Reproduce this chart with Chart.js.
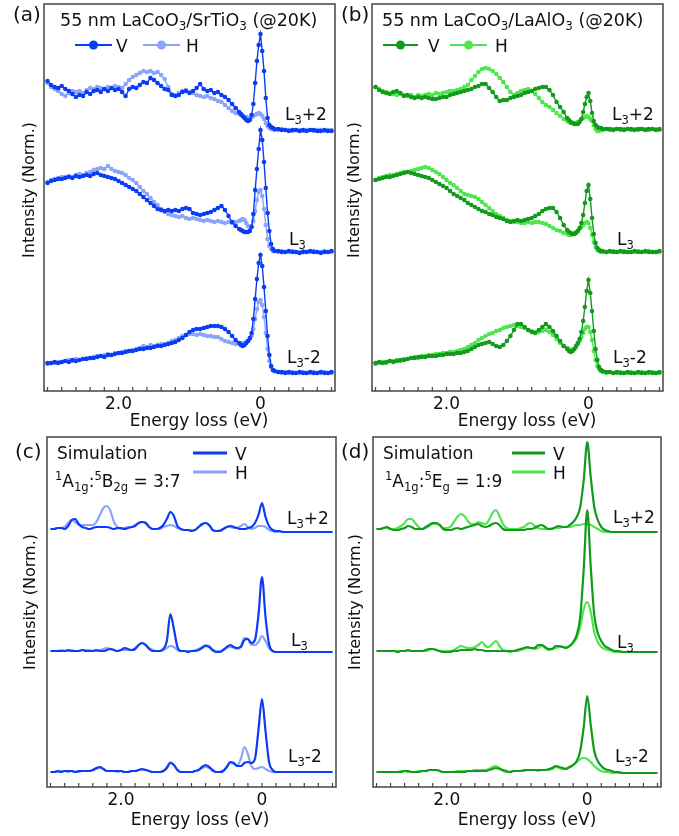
<!DOCTYPE html>
<html>
<head>
<meta charset="utf-8">
<script src="https://cdn.jsdelivr.net/npm/chart.js@4.4.1/dist/chart.umd.min.js"></script>
<style>
  body { margin: 0; background: #fff; width: 679px; height: 836px; position: relative; overflow: hidden; }
  canvas { position: absolute; }
</style>
</head>
<body>
<canvas id="pa"></canvas>
<canvas id="pb"></canvas>
<canvas id="pc"></canvas>
<canvas id="pd"></canvas>
<script>
const FONT = '"DejaVu Sans", sans-serif';

// energy loss (eV) of the measured points
const energyExp = [
  3.00, 2.95, 2.90, 2.85, 2.80, 2.75, 2.70, 2.65, 2.60, 2.55, 2.50, 2.45, 2.40, 2.35, 2.30, 2.25, 2.20, 2.15,
  2.10, 2.05, 2.00, 1.95, 1.90, 1.85, 1.80, 1.75, 1.70, 1.65, 1.60, 1.55, 1.50, 1.45, 1.40, 1.35, 1.30, 1.25,
  1.20, 1.15, 1.10, 1.05, 1.00, 0.95, 0.90, 0.85, 0.80, 0.75, 0.70, 0.65, 0.60, 0.55, 0.50, 0.45, 0.40, 0.35,
  0.300, 0.275, 0.250, 0.225, 0.200, 0.175, 0.150, 0.125, 0.100, 0.075, 0.050, 0.025, 0.000,
  -0.025, -0.050, -0.075, -0.100, -0.125, -0.150, -0.175, -0.200,
  -0.25, -0.30, -0.35, -0.40, -0.45, -0.50, -0.55, -0.60, -0.65, -0.70, -0.75, -0.80, -0.85, -0.90, -0.95, -1.00
];

// energy loss (eV) of the simulated curves
const energySim = [
  3.00, 2.95, 2.90, 2.85, 2.80, 2.75, 2.70, 2.65, 2.60, 2.55, 2.50, 2.45, 2.40, 2.35, 2.30, 2.25, 2.20, 2.15,
  2.10, 2.05, 2.00, 1.95, 1.90, 1.85, 1.80, 1.75, 1.70, 1.65, 1.60, 1.55, 1.50, 1.45, 1.40, 1.35, 1.30, 1.25,
  1.20, 1.15, 1.10, 1.05, 1.00, 0.95, 0.90, 0.85, 0.80, 0.75, 0.70, 0.65, 0.60, 0.55, 0.50, 0.45, 0.40, 0.35,
  0.30, 0.25, 0.20, 0.15, 0.10, 0.05, 0.00, -0.05, -0.10, -0.15, -0.20, -0.25, -0.30, -0.35, -0.40, -0.45,
  -0.50, -0.55, -0.60, -0.65, -0.70, -0.75, -0.80, -0.85, -0.90, -0.95, -1.00
];

// (a) LaCoO3/SrTiO3, stacked intensity (offset included)
const aPlusV = [
  310, 306, 304, 303, 305, 302, 300, 297, 294, 296, 295, 299, 297, 300, 301, 299, 302, 300, 303, 301, 302, 299,
  295, 302, 304, 303, 306, 309, 308, 313, 311, 308, 305, 302, 301, 296, 295, 296, 299, 300, 298, 300, 303, 307,
  302, 300, 301, 298, 299, 296, 294, 291, 287, 283,
  279, 277, 275, 273, 271, 270, 271, 276, 287, 308, 330, 346, 357, 340, 320, 293, 273, 266, 264, 263, 262,
  262, 261, 261, 260, 261, 261, 260, 261, 260, 261, 261, 260, 260, 261, 260, 260
];
const aPlusH = [
  308, 304, 302, 300, 297, 295, 298, 300, 299, 300, 298, 301, 303, 302, 304, 303, 302, 304, 303, 305, 304, 303,
  307, 311, 314, 316, 318, 320, 319, 320, 318, 319, 316, 312, 304, 297, 296, 298, 300, 301, 299, 298, 296, 295,
  294, 295, 293, 292, 290, 289, 286, 283, 280, 278,
  277, 276, 275, 274, 274, 273, 273, 274, 275, 276, 277, 278, 277, 275, 272, 268, 265, 263, 262, 262, 261,
  261, 262, 261, 261, 260, 261, 261, 260, 261, 261, 260, 261, 261, 260, 261, 261
];
const aMidV = [
  208, 210, 211, 212, 212, 213, 214, 213, 215, 214, 215, 216, 215, 217, 218, 216, 215, 214, 213, 212, 210, 208,
  206, 204, 202, 200, 197, 194, 191, 188, 185, 182, 181, 180, 181, 180, 181, 180, 182, 183, 182, 178, 177, 176,
  177, 178, 179, 181, 183, 185, 181, 175, 169, 165,
  162, 161, 160, 159, 159, 159, 160, 164, 177, 201, 222, 242, 261, 251, 229, 203, 178, 160, 147, 142, 140,
  140, 139, 139, 140, 139, 139, 138, 139, 139, 140, 139, 139, 138, 139, 139, 140
];
const aMidH = [
  209, 211, 212, 213, 214, 214, 215, 214, 216, 217, 216, 218, 219, 221, 222, 223, 222, 225, 222, 220, 219, 218,
  216, 213, 211, 208, 204, 200, 197, 193, 189, 186, 182, 179, 177, 176, 175, 174, 175, 173, 172, 173, 172, 171,
  170, 171, 170, 169, 170, 169, 168, 169, 168, 169,
  170, 171, 172, 171, 168, 165, 163, 165, 170, 180, 191, 199, 201, 195, 182, 166, 152, 145, 142, 140, 140,
  139, 140, 139, 139, 140, 139, 139, 140, 139, 139, 140, 139, 139, 140, 139, 139
];
const aLowV = [
  28, 28, 29, 28, 29, 30, 29, 31, 30, 31, 32, 32, 33, 33, 34, 35, 34, 36, 36, 37, 38, 38, 39, 40, 40, 41, 42,
  42, 43, 43, 44, 45, 45, 46, 47, 48, 49, 51, 53, 56, 59, 61, 62, 62, 63, 64, 65, 65, 65, 64, 62, 59, 55, 51,
  48, 46, 45, 46, 48, 50, 53, 58, 72, 92, 112, 128, 136, 125, 104, 80, 55, 36, 25, 21, 20,
  19, 19, 18, 19, 18, 18, 19, 18, 18, 19, 18, 18, 19, 18, 18, 19
];
const aLowH = [
  27, 28, 28, 29, 29, 30, 31, 30, 32, 31, 32, 33, 33, 34, 35, 35, 36, 37, 36, 38, 38, 39, 40, 40, 41, 42, 43,
  45, 44, 46, 45, 46, 47, 47, 48, 50, 51, 53, 55, 56, 57, 57, 56, 57, 56, 55, 55, 54, 54, 52, 50, 49, 48, 47,
  47, 47, 48, 48, 49, 50, 52, 55, 62, 72, 82, 89, 91, 86, 74, 58, 42, 30, 24, 21, 20,
  19, 18, 19, 18, 19, 18, 18, 19, 18, 18, 19, 18, 18, 19, 18, 18
];

// (b) LaCoO3/LaAlO3
const bPlusV = [
  304, 301, 299, 298, 297, 299, 300, 298, 295, 296, 294, 293, 294, 293, 294, 293, 292, 292, 293, 294, 294, 296,
  297, 298, 299, 300, 301, 302, 304, 305, 307, 307, 303, 299, 294, 290, 291, 291, 293, 294, 295, 296, 298, 299,
  300, 302, 303, 304, 304, 301, 296, 289, 284, 279,
  273, 271, 269, 268, 267, 267, 267, 269, 272, 279, 287, 294, 298, 290, 278, 270, 266, 264, 263, 263, 262,
  262, 262, 261, 262, 262, 261, 262, 262, 261, 262, 262, 261, 262, 262, 261, 262
];
const bPlusH = [
  304, 302, 300, 299, 298, 297, 296, 297, 296, 295, 296, 294, 296, 295, 296, 297, 296, 298, 297, 298, 299, 300,
  300, 301, 302, 304, 306, 311, 315, 319, 322, 323, 322, 320, 317, 313, 309, 304, 299, 296, 298, 300, 301, 302,
  300, 297, 293, 289, 286, 284, 281, 278, 275, 272,
  270, 269, 268, 268, 268, 268, 269, 270, 272, 273, 274, 275, 274, 272, 270, 266, 262, 260, 260, 261, 261,
  262, 261, 262, 262, 261, 262, 262, 261, 262, 261, 262, 262, 261, 262, 262, 261
];
const bMidV = [
  211, 212, 213, 214, 214, 215, 216, 217, 218, 219, 218, 217, 216, 215, 214, 213, 211, 209, 207, 205, 203, 200,
  197, 195, 193, 191, 188, 186, 184, 182, 180, 179, 177, 176, 174, 173, 172, 170, 169, 170, 171, 170, 171, 172,
  173, 175, 177, 180, 182, 183, 183, 179, 173, 166,
  161, 159, 158, 157, 157, 158, 160, 163, 168, 176, 188, 200, 206, 192, 173, 157, 148, 143, 141, 140, 140,
  139, 140, 139, 139, 140, 139, 139, 139, 140, 139, 139, 140, 139, 139, 139, 140
];
const bMidH = [
  211, 213, 214, 215, 216, 216, 217, 218, 219, 219, 220, 221, 222, 223, 224, 223, 221, 219, 217, 214, 211, 208,
  206, 203, 200, 197, 196, 195, 194, 192, 189, 186, 183, 180, 177, 175, 173, 171, 170, 169, 169, 168, 168, 169,
  168, 169, 169, 168, 167, 165, 163, 161, 160, 158,
  157, 156, 156, 157, 158, 159, 160, 162, 164, 166, 168, 169, 168, 163, 156, 149, 144, 141, 140, 139, 139,
  139, 139, 140, 139, 139, 140, 139, 139, 139, 140, 139, 139, 140, 139, 139, 139
];
const bLowV = [
  28, 29, 28, 29, 30, 29, 30, 31, 31, 32, 33, 33, 34, 34, 34, 35, 35, 35, 36, 36, 37, 37, 37, 38, 38, 39, 40,
  42, 44, 46, 47, 48, 49, 47, 45, 44, 46, 50, 55, 61, 67, 67, 64, 61, 59, 58, 61, 64, 67, 64, 60, 55, 50, 45,
  42, 40, 39, 40, 42, 45, 48, 52, 59, 70, 84, 100, 111, 98, 80, 60, 42, 31, 24, 21, 20,
  19, 19, 18, 19, 18, 18, 19, 18, 18, 19, 18, 18, 19, 18, 18, 19
];
const bLowH = [
  27, 28, 29, 28, 30, 30, 31, 30, 32, 32, 33, 34, 33, 35, 35, 36, 36, 37, 37, 38, 38, 39, 39, 40, 41, 42, 44,
  46, 48, 51, 53, 55, 57, 58, 60, 61, 63, 64, 65, 66, 65, 64, 63, 61, 60, 59, 59, 60, 61, 59, 56, 52, 48, 45,
  43, 42, 41, 41, 42, 44, 47, 50, 54, 58, 62, 64, 64, 59, 51, 40, 31, 25, 22, 20, 19,
  18, 19, 18, 18, 19, 18, 18, 19, 18, 18, 19, 18, 18, 19, 18, 18
];

// (c) simulation 1A1g:5B2g = 3:7
const cPlusV = [
  258, 258, 259, 259, 258, 261, 267, 268, 263, 260, 259, 258, 259, 260, 260, 260, 260, 259, 258, 259, 259,
  258, 259, 260, 261, 264, 265, 264, 260, 258, 258, 259, 262, 268, 275, 271, 261, 258, 257, 257, 256, 257,
  260, 263, 264, 262, 257, 256, 256, 258, 260, 261, 260, 259, 258, 258, 259, 260, 264, 272, 284, 270, 261,
  257, 256, 256, 255, 255, 255, 255, 255, 255, 255, 255, 255, 255, 255, 255, 255, 255, 255
];
const cPlusH = [
  258, 258, 259, 259, 260, 264, 267, 265, 262, 262, 262, 262, 262, 265, 272, 279, 281, 276, 265, 260, 258,
  259, 260, 260, 262, 264, 265, 264, 260, 258, 258, 258, 260, 261, 262, 261, 259, 258, 257, 257, 257, 257,
  260, 262, 264, 262, 257, 256, 257, 258, 260, 260, 259, 259, 261, 263, 260, 258, 259, 261, 261, 260, 257,
  256, 255, 255, 255, 255, 255, 255, 255, 255, 255, 255, 255, 255, 255, 255, 255, 255, 255
];
const cMidV = [
  136, 136, 136, 136, 136, 137, 136, 136, 136, 137, 136, 136, 136, 137, 136, 136, 137, 138, 137, 136, 137,
  139, 138, 137, 138, 142, 144, 142, 138, 136, 136, 136, 138, 146, 173, 158, 140, 136, 136, 135, 136, 136,
  137, 139, 141, 140, 137, 135, 135, 137, 140, 142, 140, 139, 140, 147, 148, 144, 147, 172, 210, 170, 143,
  136, 135, 135, 135, 135, 135, 135, 135, 135, 135, 135, 135, 135, 135, 135, 135, 135, 135
];
const cMidH = [
  136, 136, 136, 137, 136, 136, 137, 136, 136, 137, 137, 137, 136, 136, 137, 138, 139, 138, 137, 136, 137,
  137, 137, 137, 139, 142, 144, 142, 139, 137, 136, 136, 137, 139, 141, 140, 137, 136, 136, 136, 136, 137,
  138, 140, 142, 141, 137, 136, 136, 137, 139, 140, 139, 138, 141, 149, 148, 142, 142, 145, 151, 146, 139,
  136, 135, 135, 135, 135, 135, 135, 135, 135, 135, 135, 135, 135, 135, 135, 135, 135, 135
];
const cLowV = [
  15, 15, 16, 15, 16, 16, 16, 15, 16, 16, 16, 16, 17, 19, 20, 18, 16, 16, 16, 16, 16, 15, 15, 16, 16, 17, 18,
  17, 16, 15, 15, 15, 16, 19, 24, 22, 17, 15, 15, 15, 15, 16, 17, 20, 22, 20, 17, 15, 15, 16, 20, 25, 24, 21,
  21, 24, 25, 24, 28, 57, 88, 56, 25, 17, 15, 15, 15, 15, 15, 15, 15, 15, 15, 15, 15, 15, 15, 15, 15, 15, 15
];
const cLowH = [
  15, 15, 15, 16, 16, 15, 16, 15, 15, 16, 16, 16, 17, 18, 19, 18, 16, 16, 16, 15, 16, 15, 15, 16, 16, 17, 17,
  17, 16, 15, 15, 15, 16, 20, 25, 22, 17, 15, 15, 15, 15, 16, 17, 19, 20, 19, 16, 15, 15, 16, 20, 24, 23, 22,
  28, 40, 33, 21, 18, 19, 20, 18, 16, 15, 15, 15, 15, 15, 15, 15, 15, 15, 15, 15, 15, 15, 15, 15, 15, 15, 15
];

// (d) simulation 1A1g:5Eg = 1:9
const dPlusV = [
  258, 258, 259, 260, 258, 257, 257, 258, 259, 261, 260, 258, 258, 258, 260, 262, 264, 264, 262, 258, 257,
  257, 258, 259, 258, 259, 260, 261, 262, 263, 261, 260, 261, 263, 264, 262, 258, 257, 257, 257, 257, 257,
  257, 258, 258, 259, 261, 262, 260, 258, 258, 260, 261, 260, 260, 262, 265, 270, 280, 307, 345, 310, 280,
  267, 260, 257, 256, 255, 255, 255, 255, 255, 255, 255, 255, 255, 255, 255, 255, 255, 255
];
const dPlusH = [
  258, 258, 259, 259, 258, 258, 259, 261, 264, 268, 268, 264, 260, 258, 259, 261, 263, 263, 262, 259, 259,
  260, 265, 270, 273, 271, 266, 263, 263, 265, 264, 263, 267, 274, 277, 271, 263, 259, 258, 258, 258, 259,
  260, 263, 264, 261, 259, 258, 258, 258, 259, 259, 259, 260, 260, 260, 261, 262, 262, 263, 263, 262, 260,
  258, 256, 255, 255, 255, 255, 255, 255, 255, 255, 255, 255, 255, 255, 255, 255, 255, 255
];
const dMidV = [
  136, 136, 136, 136, 136, 136, 135, 136, 136, 137, 136, 136, 136, 136, 137, 138, 138, 137, 136, 135, 135,
  135, 136, 136, 137, 137, 137, 137, 138, 137, 137, 136, 136, 136, 136, 136, 136, 136, 136, 136, 137, 138,
  139, 140, 139, 139, 142, 142, 140, 138, 138, 141, 141, 140, 139, 141, 145, 152, 170, 218, 277, 220, 172,
  154, 146, 141, 139, 137, 136, 136, 135, 135, 135, 135, 135, 135, 135, 135, 135, 135, 135
];
const dMidH = [
  136, 136, 136, 136, 136, 136, 136, 136, 136, 136, 136, 136, 136, 136, 136, 137, 138, 137, 136, 136, 136,
  136, 137, 139, 141, 140, 139, 139, 140, 142, 145, 141, 140, 143, 146, 141, 137, 136, 135, 136, 136, 137,
  138, 139, 139, 138, 139, 141, 139, 137, 138, 139, 140, 140, 140, 141, 144, 149, 160, 178, 185, 175, 155,
  145, 140, 138, 137, 136, 135, 135, 135, 135, 135, 135, 135, 135, 135, 135, 135, 135, 135
];
const dLowV = [
  15, 15, 15, 15, 15, 15, 15, 15, 16, 16, 15, 15, 15, 16, 16, 17, 17, 17, 16, 15, 15, 15, 15, 15, 15, 15, 16,
  16, 16, 16, 16, 16, 17, 18, 19, 18, 17, 16, 15, 16, 16, 16, 17, 17, 17, 17, 17, 17, 17, 18, 19, 21, 20, 19,
  18, 20, 22, 26, 36, 60, 91, 62, 36, 26, 21, 18, 17, 16, 15, 15, 14, 14, 14, 14, 14, 14, 14, 14, 14, 14, 14
];
const dLowH = [
  15, 15, 15, 15, 15, 15, 15, 16, 16, 15, 15, 15, 16, 16, 16, 17, 17, 17, 16, 15, 15, 15, 15, 16, 16, 16, 16,
  16, 17, 17, 17, 17, 18, 20, 21, 19, 16, 15, 15, 16, 16, 16, 16, 17, 17, 17, 16, 17, 17, 17, 18, 20, 19, 18,
  19, 20, 22, 25, 28, 29, 28, 25, 21, 18, 16, 15, 15, 14, 14, 14, 14, 14, 14, 14, 14, 14, 14, 14, 14, 14, 14
];

const tickValuesLabelled = [2, 0];

const BLUE_V = '#0a3cf5', BLUE_H = '#8aa5fb';
const GREEN_V = '#139a1c', GREEN_H = '#4ee64e';

function series(xs, ys) {
    return xs.map((x, i) => ({ x, y: ys[i] }));
}

function expSet(ys, color) {
    return {
        data: series(energyExp, ys),
        borderColor: color,
        backgroundColor: color,
        borderWidth: 1.4,
        pointRadius: 2.3,
        pointBorderWidth: 0,
        tension: 0,
    };
}

function simSet(ys, color) {
    return {
        data: series(energySim, ys),
        borderColor: color,
        borderWidth: 2.2,
        pointRadius: 0,
        cubicInterpolationMode: 'monotone',
    };
}

const L3p2 = ['L', ['3', 'sub'], '+2'];
const L3 = ['L', ['3', 'sub']];
const L3m2 = ['L', ['3', 'sub'], '-2'];

// layout of the four panels, absolute page pixels
const PANELS = [
    {
        id: 'pa', canvas: { x: 0, y: 0, w: 340, h: 432 }, area: { l: 44, t: 4, r: 335, b: 391 }, ymax: 387,
        datasets: [expSet(aPlusV, BLUE_V), expSet(aMidV, BLUE_V), expSet(aLowV, BLUE_V),
                   expSet(aPlusH, BLUE_H), expSet(aMidH, BLUE_H), expSet(aLowH, BLUE_H)],
        tag: { text: '(a)', x: 13, y: 21 },
        texts: [{ parts: ['55 nm LaCoO', ['3', 'sub'], '/SrTiO', ['3', 'sub'], ' (@20K)'], x: 60, y: 26, size: 17.5 }],
        legend: { kind: 'exp', y: 45, items: [
            { c: BLUE_V, x1: 75, x2: 112, tx: 116, label: 'V' },
            { c: BLUE_H, x1: 143, x2: 180, tx: 186, label: 'H' }] },
        labels: [{ parts: L3p2, x: 285, y: 120 }, { parts: L3, x: 289, y: 245 }, { parts: L3m2, x: 287, y: 363 }],
        ytitle: { x: 30, y: 190 }, xtitle: { x: 199, y: 426 },
    },
    {
        id: 'pb', canvas: { x: 340, y: 0, w: 339, h: 432 }, area: { l: 372, t: 4, r: 663, b: 391 }, ymax: 387,
        datasets: [expSet(bPlusV, GREEN_V), expSet(bMidV, GREEN_V), expSet(bLowV, GREEN_V),
                   expSet(bPlusH, GREEN_H), expSet(bMidH, GREEN_H), expSet(bLowH, GREEN_H)],
        tag: { text: '(b)', x: 341, y: 21 },
        texts: [{ parts: ['55 nm LaCoO', ['3', 'sub'], '/LaAlO', ['3', 'sub'], ' (@20K)'], x: 382, y: 26, size: 17.5 }],
        legend: { kind: 'exp', y: 45, items: [
            { c: GREEN_V, x1: 383, x2: 418, tx: 428, label: 'V' },
            { c: GREEN_H, x1: 450, x2: 487, tx: 495, label: 'H' }] },
        labels: [{ parts: L3p2, x: 612, y: 120 }, { parts: L3, x: 617, y: 245 }, { parts: L3m2, x: 613, y: 363 }],
        ytitle: { x: 355, y: 190 }, xtitle: { x: 527, y: 426 },
    },
    {
        id: 'pc', canvas: { x: 0, y: 432, w: 340, h: 404 }, area: { l: 47, t: 437, r: 336, b: 787 }, ymax: 350,
        datasets: [simSet(cPlusV, BLUE_V), simSet(cMidV, BLUE_V), simSet(cLowV, BLUE_V),
                   simSet(cPlusH, BLUE_H), simSet(cMidH, BLUE_H), simSet(cLowH, BLUE_H)],
        tag: { text: '(c)', x: 15, y: 458 },
        texts: [
            { parts: ['Simulation'], x: 57, y: 459, size: 17 },
            { parts: [['1', 'sup'], 'A', ['1g', 'sub'], ':', ['5', 'sup'], 'B', ['2g', 'sub'], ' = 3:7'], x: 55, y: 487, size: 17 }],
        legend: { kind: 'sim', items: [
            { c: BLUE_V, x1: 193, x2: 227, y: 453, tx: 235, label: 'V' },
            { c: BLUE_H, x1: 193, x2: 227, y: 472, tx: 235, label: 'H' }] },
        labels: [{ parts: L3p2, x: 287, y: 524 }, { parts: L3, x: 291, y: 646 }, { parts: L3m2, x: 288, y: 762 }],
        ytitle: { x: 30.5, y: 602 }, xtitle: { x: 200, y: 825 },
    },
    {
        id: 'pd', canvas: { x: 340, y: 432, w: 339, h: 404 }, area: { l: 373, t: 437, r: 661, b: 787 }, ymax: 350,
        datasets: [simSet(dPlusV, GREEN_V), simSet(dMidV, GREEN_V), simSet(dLowV, GREEN_V),
                   simSet(dPlusH, GREEN_H), simSet(dMidH, GREEN_H), simSet(dLowH, GREEN_H)],
        tag: { text: '(d)', x: 341, y: 458 },
        texts: [
            { parts: ['Simulation'], x: 383, y: 459, size: 17 },
            { parts: [['1', 'sup'], 'A', ['1g', 'sub'], ':', ['5', 'sup'], 'E', ['g', 'sub'], ' = 1:9'], x: 385, y: 487, size: 17 }],
        legend: { kind: 'sim', items: [
            { c: GREEN_V, x1: 512, x2: 545, y: 453, tx: 553, label: 'V' },
            { c: GREEN_H, x1: 512, x2: 545, y: 472, tx: 553, label: 'H' }] },
        labels: [{ parts: L3p2, x: 613, y: 523 }, { parts: L3, x: 617, y: 648 }, { parts: L3m2, x: 615, y: 762 }],
        ytitle: { x: 355.5, y: 602 }, xtitle: { x: 527, y: 825 },
    },
];

// text with sub/superscripts, left aligned on the baseline
function drawRich(ctx, x, y, parts, size) {
    let cx = x;
    parts.forEach(p => {
        const [txt, mode] = Array.isArray(p) ? p : [p, null];
        const s = mode ? size * 0.68 : size;
        const dy = mode === 'sub' ? size * 0.24 : mode === 'sup' ? -size * 0.4 : 0;
        ctx.font = s + 'px ' + FONT;
        ctx.fillText(txt, cx, y + dy);
        cx += ctx.measureText(txt).width;
    });
}

function tickLabel(v) {
    const hit = tickValuesLabelled.find(t => Math.abs(v - t) < 1e-6);
    if (hit === undefined) return '';
    return hit === 0 ? '0' : hit.toFixed(1);
}

function decor(p) {
    const ox = p.canvas.x, oy = p.canvas.y;
    return {
        id: 'decor_' + p.id,
        afterDraw(chart) {
            const ctx = chart.ctx;
            const ca = chart.chartArea;
            const xs = chart.scales.x;
            ctx.save();

            // frame and inward ticks
            ctx.strokeStyle = '#444';
            ctx.lineWidth = 1.5;
            ctx.strokeRect(ca.left, ca.top, ca.right - ca.left, ca.bottom - ca.top);
            ctx.lineWidth = 1.2;
            xs.ticks.forEach(t => {
                const px = xs.getPixelForValue(t.value);
                ctx.beginPath();
                ctx.moveTo(px, ca.bottom);
                ctx.lineTo(px, ca.bottom - 4);
                ctx.stroke();
            });

            ctx.fillStyle = '#111';
            ctx.textBaseline = 'alphabetic';
            ctx.textAlign = 'left';

            ctx.font = '20px ' + FONT;
            ctx.fillText(p.tag.text, p.tag.x - ox, p.tag.y - oy);

            p.texts.forEach(t => drawRich(ctx, t.x - ox, t.y - oy, t.parts, t.size));
            p.labels.forEach(t => drawRich(ctx, t.x - ox, t.y - oy, t.parts, 17));

            // legend
            p.legend.items.forEach(it => {
                const y = (it.y !== undefined ? it.y : p.legend.y) - oy;
                ctx.strokeStyle = it.c;
                ctx.lineWidth = p.legend.kind === 'exp' ? 2 : 3;
                ctx.beginPath();
                ctx.moveTo(it.x1 - ox, y);
                ctx.lineTo(it.x2 - ox, y);
                ctx.stroke();
                if (p.legend.kind === 'exp') {
                    ctx.fillStyle = it.c;
                    ctx.beginPath();
                    ctx.arc((it.x1 + it.x2) / 2 - ox, y, 4.5, 0, Math.PI * 2);
                    ctx.fill();
                }
                ctx.fillStyle = '#111';
                ctx.font = '17px ' + FONT;
                ctx.fillText(it.label, it.tx - ox, y + 6.5);
            });

            // axis titles
            ctx.textAlign = 'center';
            ctx.font = '17px ' + FONT;
            ctx.fillText('Energy loss (eV)', p.xtitle.x - ox, p.xtitle.y - oy);
            ctx.translate(p.ytitle.x - ox, p.ytitle.y - oy);
            ctx.rotate(-Math.PI / 2);
            ctx.textBaseline = 'middle';
            ctx.font = '16px ' + FONT;
            ctx.fillText('Intensity (Norm.)', 0, 0);

            ctx.restore();
        },
    };
}

function makeChart(p) {
    const el = document.getElementById(p.id);
    el.width = p.canvas.w;
    el.height = p.canvas.h;
    el.style.left = p.canvas.x + 'px';
    el.style.top = p.canvas.y + 'px';

    return new Chart(el.getContext('2d'), {
        type: 'line',
        data: { datasets: p.datasets },
        options: {
            responsive: false,
            animation: false,
            events: [],
            layout: {
                padding: {
                    left: p.area.l - p.canvas.x,
                    top: p.area.t - p.canvas.y,
                    right: p.canvas.x + p.canvas.w - p.area.r,
                    bottom: 0,
                },
            },
            plugins: {
                legend: { display: false },
                tooltip: { enabled: false },
            },
            scales: {
                x: {
                    type: 'linear',
                    reverse: true,
                    min: -1.05,
                    max: 3.05,
                    grid: { display: false, drawTicks: false },
                    border: { display: false },
                    ticks: {
                        stepSize: 0.2,
                        includeBounds: false,
                        autoSkip: false,
                        maxRotation: 0,
                        padding: 3,
                        color: '#111',
                        font: { family: FONT, size: 17 },
                        callback: tickLabel,
                    },
                    afterFit: s => { s.height = p.canvas.y + p.canvas.h - p.area.b; },
                },
                y: { display: false, min: 0, max: p.ymax },
            },
        },
        plugins: [decor(p)],
    });
}

PANELS.forEach(makeChart);
</script>
</body>
</html>
